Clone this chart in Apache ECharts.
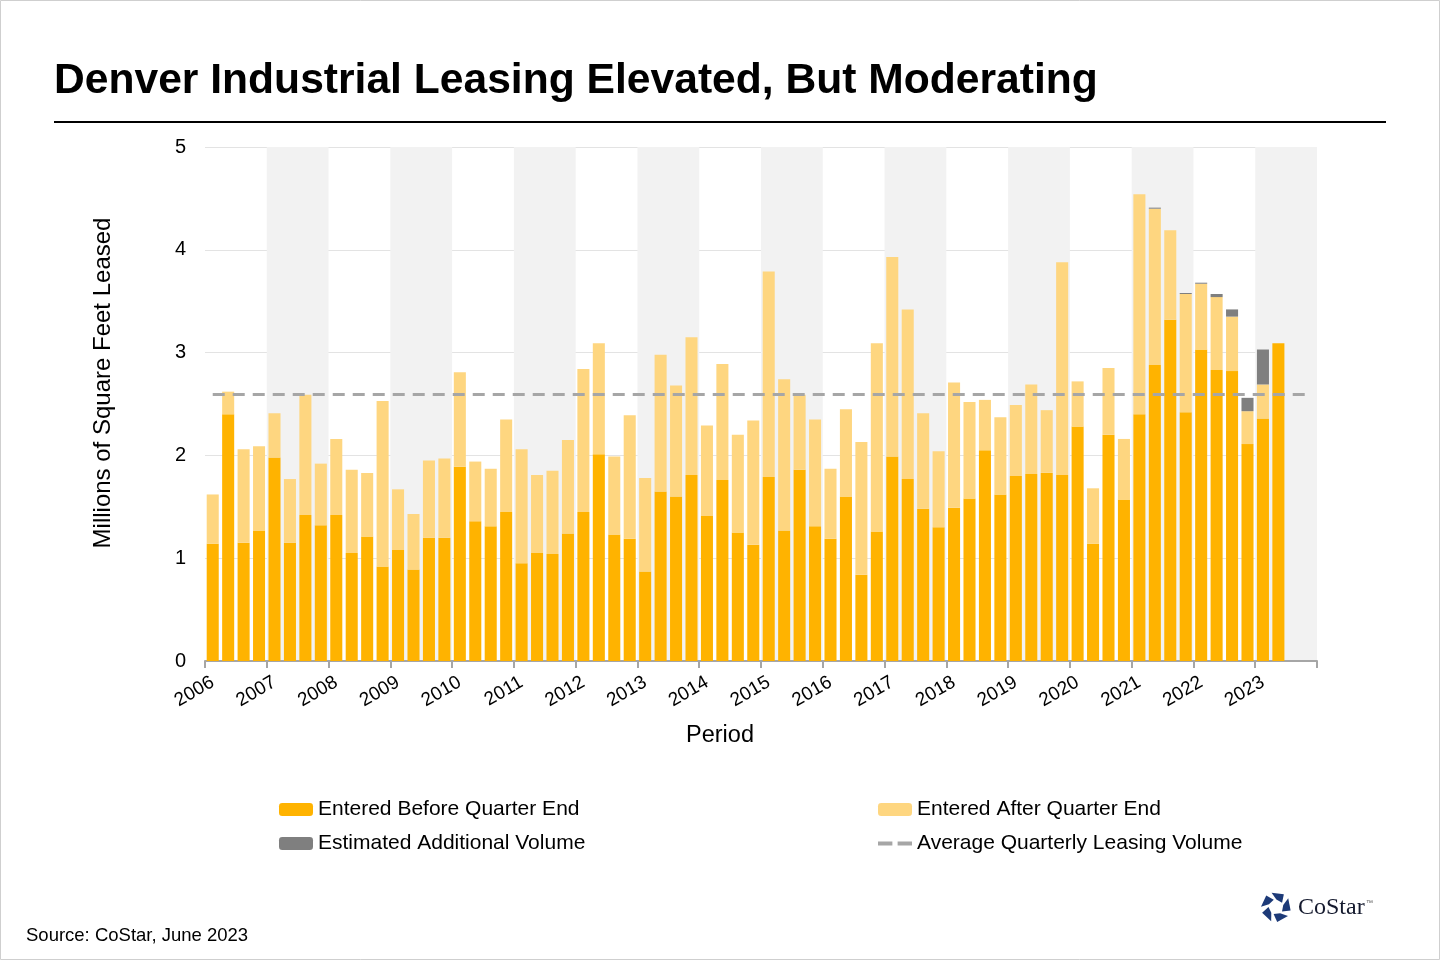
<!DOCTYPE html>
<html>
<head>
<meta charset="utf-8">
<script src="https://cdn.jsdelivr.net/npm/echarts@6/dist/echarts.min.js"></script>
<style>
html,body{margin:0;padding:0;background:#fff;}
#c{width:1440px;height:960px;}
</style>
</head>
<body>
<div id="c"></div>
<script>
// ---- DATA ----
const years = ['2006','2007','2008','2009','2010','2011','2012','2013','2014','2015','2016','2017','2018','2019','2020','2021','2022','2023'];
const quarterNames = ['Q1','Q2','Q3','Q4'];
// Entered before quarter end (millions sq ft), 2006Q1..2023Q2
const enteredBefore = [
  1.14, 2.40, 1.15, 1.27,
  1.98, 1.15, 1.42, 1.32,
  1.42, 1.05, 1.21, 0.92,
  1.08, 0.89, 1.20, 1.20,
  1.89, 1.36, 1.31, 1.45,
  0.95, 1.05, 1.04, 1.24,
  1.45, 2.01, 1.23, 1.19,
  0.87, 1.65, 1.60, 1.81,
  1.41, 1.76, 1.25, 1.13,
  1.79, 1.27, 1.86, 1.31,
  1.19, 1.60, 0.84, 1.26,
  1.99, 1.77, 1.48, 1.30,
  1.49, 1.58, 2.05, 1.62,
  1.80, 1.82, 1.83, 1.81,
  2.28, 1.14, 2.20, 1.57,
  2.40, 2.88, 3.32, 2.42,
  3.03, 2.83, 2.82, 2.11,
  2.36, 3.09
];
// Entered after quarter end (increment on top)
const enteredAfter = [
  0.48, 0.22, 0.91, 0.82,
  0.43, 0.62, 1.17, 0.60,
  0.74, 0.81, 0.62, 1.61,
  0.59, 0.54, 0.75, 0.77,
  0.92, 0.58, 0.56, 0.90,
  1.11, 0.76, 0.81, 0.91,
  1.39, 1.08, 0.76, 1.20,
  0.91, 1.33, 1.08, 1.34,
  0.88, 1.13, 0.95, 1.21,
  2.00, 1.47, 0.73, 1.04,
  0.68, 0.85, 1.29, 1.83,
  1.94, 1.65, 0.93, 0.74,
  1.22, 0.94, 0.49, 0.75,
  0.69, 0.87, 0.61, 2.07,
  0.44, 0.54, 0.65, 0.59,
  2.14, 1.52, 0.87, 1.15,
  0.64, 0.71, 0.53, 0.32,
  0.33, 0.00
];
// Estimated additional volume (increment on top)
const estimatedAdditional = [
  0,0,0,0, 0,0,0,0, 0,0,0,0, 0,0,0,0, 0,0,0,0, 0,0,0,0,
  0,0,0,0, 0,0,0,0, 0,0,0,0, 0,0,0,0, 0,0,0,0, 0,0,0,0,
  0,0,0,0, 0,0,0,0, 0,0,0,0,
  0, 0.01, 0, 0.01,
  0.01, 0.03, 0.07, 0.13,
  0.34, 0
];
const averageQuarterly = 2.59;
const yTicks = [0, 1, 2, 3, 4, 5];

// ---- BUILD ----
const categories = [];
years.forEach(y => quarterNames.forEach(q => categories.push(y + ' ' + q)));

const FONT = "'Liberation Sans', Arial, sans-serif";
const chart = echarts.init(document.getElementById('c'), null, {renderer: 'canvas'});

// logo polygons (decoration)
const logoPieces = [];
const cx = 1276, cy = 907;
for (let k = 0; k < 5; k++) {
  const a0 = (-90 + 72 * k) * Math.PI / 180;
  const pts = [
    [cx + 15 * Math.cos(a0 - 0.30), cy + 15 * Math.sin(a0 - 0.30)],
    [cx + 15 * Math.cos(a0 + 0.55), cy + 15 * Math.sin(a0 + 0.55)],
    [cx + 7.5 * Math.cos(a0 + 0.95), cy + 7.5 * Math.sin(a0 + 0.95)],
    [cx + 7.5 * Math.cos(a0 + 0.05), cy + 7.5 * Math.sin(a0 + 0.05)]
  ];
  logoPieces.push({type: 'polygon', shape: {points: pts}, style: {fill: '#1d3a78'}});
}

const dashIcon = 'path://M0,0h11v3h-11z M15,0h11v3h-11z';

const option = {
  backgroundColor: '#fff',
  animation: false,
  textStyle: {fontFamily: FONT},
  grid: {left: 205, right: 123, top: 147, bottom: 299, containLabel: false},
  legend: [
    {
      orient: 'vertical', left: 279, top: 799, padding: 0, itemWidth: 34, itemHeight: 13, itemGap: 13,
      textStyle: {fontSize: 21, color: '#000', fontFamily: FONT},
      data: ['Entered Before Quarter End', 'Estimated Additional Volume'],
      selectedMode: false
    },
    {
      orient: 'vertical', left: 878, top: 799, padding: 0, itemWidth: 34, itemHeight: 13, itemGap: 13,
      textStyle: {fontSize: 21, color: '#000', fontFamily: FONT},
      data: ['Entered After Quarter End', {name: 'Average Quarterly Leasing Volume', icon: dashIcon, itemStyle: {color: '#a6a6a6'}}],
      selectedMode: false
    }
  ],
  xAxis: {
    type: 'category',
    data: categories,
    boundaryGap: true,
    axisLine: {show: true, lineStyle: {color: '#a6a6a6', width: 2}},
    axisTick: {show: true, interval: 3, length: 7, lineStyle: {color: '#a6a6a6', width: 2}},
    axisLabel: {
      interval: 3, rotate: 30, fontSize: 19, color: '#000', margin: 20, fontFamily: FONT,
      formatter: v => v.slice(0, 4)
    },
    splitArea: {show: true, interval: 3, areaStyle: {color: ['rgba(255,255,255,0)', '#f2f2f2']}},
    splitLine: {show: false}
  },
  yAxis: {
    type: 'value', min: 0, max: 5, interval: 1,
    axisLine: {show: false}, axisTick: {show: false},
    axisLabel: {fontSize: 20, color: '#000', margin: 19, fontFamily: FONT,
      formatter: v => (yTicks.indexOf(v) >= 0 ? String(v) : '')},
    splitLine: {show: true, lineStyle: {color: '#e3e3e3', width: 1}}
  },
  series: [
    {
      name: 'Entered Before Quarter End', type: 'bar', stack: 'lease',
      data: enteredBefore, barCategoryGap: '22%',
      itemStyle: {color: '#ffb300'},
      markLine: {
        silent: true, symbol: ['none', 'none'], label: {show: false},
        lineStyle: {color: '#a6a6a6', width: 3, type: [12, 8]},
        data: [[{coord: [0, averageQuarterly]}, {coord: [categories.length - 1, averageQuarterly]}]],
        z: 10
      }
    },
    {
      name: 'Entered After Quarter End', type: 'bar', stack: 'lease',
      data: enteredAfter, itemStyle: {color: '#fed680'}
    },
    {
      name: 'Estimated Additional Volume', type: 'bar', stack: 'lease',
      data: estimatedAdditional, itemStyle: {color: '#7f7f7f'}
    },
    {
      name: 'Average Quarterly Leasing Volume', type: 'line', data: [],
      symbol: 'none', showSymbol: false, itemStyle: {color: '#a6a6a6'},
      lineStyle: {color: '#a6a6a6', width: 3, type: [9, 6]}
    }
  ],
  graphic: [
    {type: 'rect', shape: {x: 0.5, y: 0.5, width: 1439, height: 959}, style: {fill: 'none', stroke: '#cfcfcf', lineWidth: 1}, silent: true},
    {type: 'text', x: 54, y: 81, style: {text: 'Denver Industrial Leasing Elevated, But Moderating', font: "bold 42.6px 'Liberation Sans', Arial, sans-serif", fill: '#000', align: 'left', verticalAlign: 'middle'}},
    {type: 'line', shape: {x1: 54, y1: 122, x2: 1386, y2: 122}, style: {stroke: '#000', lineWidth: 2}},
    {type: 'text', x: 103, y: 383, rotation: Math.PI / 2,
      style: {text: 'Millions of Square Feet Leased', font: "24px 'Liberation Sans', Arial, sans-serif", fill: '#000', align: 'center', verticalAlign: 'middle'}},
    {type: 'text', x: 720, y: 736,
      style: {text: 'Period', font: "23.5px 'Liberation Sans', Arial, sans-serif", fill: '#000', align: 'center', verticalAlign: 'middle'}},
    {type: 'text', x: 26, y: 936,
      style: {text: 'Source: CoStar, June 2023', font: "18.5px 'Liberation Sans', Arial, sans-serif", fill: '#000', align: 'left', verticalAlign: 'middle'}},
    {type: 'group', children: logoPieces},
    {type: 'text', x: 1298, y: 908,
      style: {text: 'CoStar', font: "24px 'Liberation Serif', 'Times New Roman', serif", fill: '#151a2e', align: 'left', verticalAlign: 'middle'}},
    {type: 'text', x: 1366, y: 903,
      style: {text: '™', font: "7px 'Liberation Sans', Arial, sans-serif", fill: '#555', align: 'left', verticalAlign: 'middle'}}
  ]
};
chart.setOption(option);
</script>
</body>
</html>
